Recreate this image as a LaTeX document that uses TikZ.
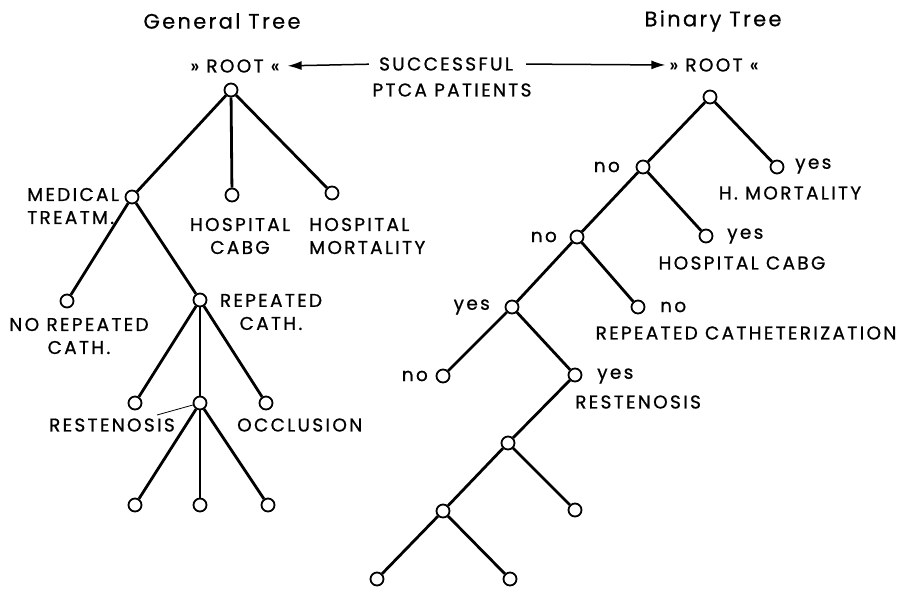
\documentclass[tikz,border=0pt]{standalone}
\usepackage{fontspec}
\setmainfont{Poppins}[LetterSpace=12.5,FakeBold=0.8]
\newfontfamily\titlefont{Poppins}[LetterSpace=11,FakeBold=0.4]
\usetikzlibrary{arrows.meta}
\begin{document}
\begin{tikzpicture}[x=1pt,y=-1pt,
  nd/.style={circle,draw,fill=white,line width=1.8pt,minimum size=13pt,inner sep=0pt},
  br/.style={line width=2.8pt},
  lab/.style={inner sep=0pt,font=\fontsize{18.5}{23}\selectfont},
  ttl/.style={inner sep=0pt,font=\titlefont\fontsize{21}{25}\selectfont},
  arr/.style={line width=1.5pt,-{Latex[length=14pt,width=9pt]}}]
\useasboundingbox (0,0) rectangle (908,589);
% titles
\node[ttl] (titleG) at (222,21) {General Tree};
\node[ttl] (titleB) at (713,21) {Binary Tree};
% header
\node[lab] (rootL) at (235,66) {» ROOT «};
\node[lab] (rootR) at (714,65) {» ROOT «};
\node[lab] (succ) at (446,64) {SUCCESSFUL};
\node[lab] (ptca) at (452,90) {PTCA PATIENTS};
\draw[arr,shorten <=10pt,shorten >=8pt] (succ.west) -- (rootL.east);
\draw[arr,shorten <=13pt,shorten >=4pt] (succ.east) -- (rootR.west);
% general tree nodes
\node[nd] (g0) at (231,90) {};
\node[nd] (g1) at (132,197) {};
\node[nd] (g2) at (232,195) {};
\node[nd] (g3) at (332,193) {};
\node[nd] (g4) at (67,301) {};
\node[nd] (g5) at (200,300) {};
\node[nd] (g6) at (135,403) {};
\node[nd] (g7) at (200,403) {};
\node[nd] (g8) at (266,403) {};
\node[nd] (g9) at (135,505) {};
\node[nd] (g10) at (200,505) {};
\node[nd] (g11) at (268,505) {};
\draw[br] (g0) -- (g1); \draw[br] (g0) -- (g2); \draw[br] (g0) -- (g3);
\draw[br] (g1) -- (g4); \draw[br] (g1) -- (g5);
\draw[br] (g5) -- (g6); \draw[br] (g5) -- (g7); \draw[br] (g5) -- (g8);
\draw[br] (g7) -- (g9); \draw[br] (g7) -- (g10); \draw[br] (g7) -- (g11);
% general labels
\node[lab,align=left,anchor=west] (medL) at (27,206) {MEDICAL\\TREATM.};
\node[lab,align=center] (cabgL) at (240,236) {HOSPITAL\\CABG};
\node[lab,align=left,anchor=west] (mortL) at (309,236) {HOSPITAL\\MORTALITY};
\node[lab,align=center] (norepL) at (79,336) {NO REPEATED\\CATH.};
\node[lab,align=center] (repL) at (271,312) {REPEATED\\CATH.};
\node[lab,anchor=east] (restL) at (175,425) {RESTENOSIS};
\node[lab,anchor=west] (occL) at (237,425) {OCCLUSION};
\coordinate (restlead) at (157,415);
\draw[line width=0.8pt] (restlead) -- (g7);
% binary tree nodes
\node[nd] (b0) at (710,97) {};
\node[nd] (b1) at (643,167) {};
\node[nd] (y1) at (777,167) {};
\node[nd] (b2) at (577,237) {};
\node[nd] (y2) at (706,236) {};
\node[nd] (b3) at (512,307) {};
\node[nd] (r3) at (638,307) {};
\node[nd] (b4) at (443,376) {};
\node[nd] (y4) at (575,375) {};
\node[nd] (b5) at (508,443) {};
\node[nd] (b6) at (443,511) {};
\node[nd] (b7) at (575,510) {};
\node[nd] (b8) at (377,579) {};
\node[nd] (b9) at (510,579) {};
\draw[br] (b0) -- (b1); \draw[br] (b0) -- (y1);
\draw[br] (b1) -- (b2); \draw[br] (b1) -- (y2);
\draw[br] (b2) -- (b3); \draw[br] (b2) -- (r3);
\draw[br] (b3) -- (b4); \draw[br] (b3) -- (y4);
\draw[br] (y4) -- (b5);
\draw[br] (b5) -- (b6); \draw[br] (b5) -- (b7);
\draw[br] (b6) -- (b8); \draw[br] (b6) -- (b9);
% binary labels
\node[lab,anchor=east] (n1) at (620,167) {no};
\node[lab,anchor=west] (ye1) at (795,166) {yes};
\node[lab] (hmortL) at (790,193) {H. MORTALITY};
\node[lab,anchor=east] (n2) at (557,237) {no};
\node[lab,anchor=west] (ye2) at (727,236) {yes};
\node[lab] (hcabgL) at (742,263) {HOSPITAL CABG};
\node[lab,anchor=east] (ye3) at (490,307) {yes};
\node[lab,anchor=west] (n3) at (660,307) {no};
\node[lab] (rcathL) at (746,333) {REPEATED CATHETERIZATION};
\node[lab,anchor=east] (n4) at (428,376) {no};
\node[lab,anchor=west] (ye4) at (597,376) {yes};
\node[lab,anchor=west] (restB) at (575,402) {RESTENOSIS};
\end{tikzpicture}
\end{document}
